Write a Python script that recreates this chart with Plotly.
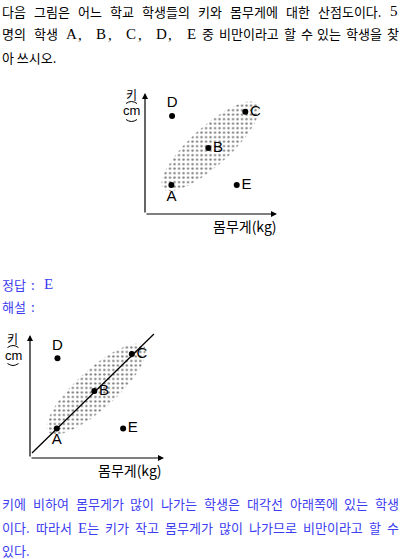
import numpy as np
import plotly.graph_objects as go

W, H = 400, 559

# ---- data (arbitrary units of weight / height) ----
labels = ["A", "B", "C", "D", "E"]
weight = [2.0, 4.8, 7.6, 2.05, 6.95]
height = [2.4, 5.45, 8.45, 8.1, 2.4]
label_pos = ["bottom center", "middle right", "middle right", "top center", "middle right"]
trend_x = [0.15, 9.25]
trend_y = [0.41, 10.08]

# ellipse (cloud of students) geometry
ell_cx, ell_cy, ell_a, ell_b, ell_ang = 4.95, 5.6, 5.0, 1.55, 45.0

BLUE = "#3c3cf0"
KFONT = "Noto Sans CJK KR, sans-serif"
SERIF = "Liberation Serif, serif"
SANS = "Liberation Sans, Arial, sans-serif"
FS = 13
HANGUL_K = 0.92


def px(x, y):
    return x / W, 1 - y / H


def ellipse():
    t = np.linspace(0, 2 * np.pi, 120)
    th = np.radians(ell_ang)
    u = ell_a * np.cos(t)
    v = ell_b * np.sin(t)
    return ell_cx + u * np.cos(th) - v * np.sin(th), ell_cy + u * np.sin(th) + v * np.cos(th)


fig = go.Figure()

charts = [
    dict(ox=145, oy=214, sx=13.2, sy=12.1, trend=False, xa="x", ya="y"),
    dict(ox=30, oy=458, sx=13.4, sy=12.3, trend=True, xa="x2", ya="y2"),
]

annotations = []
shapes = []
layout_axes = {}
for i, c in enumerate(charts):
    xr = [-1, 11]
    yr = [-1, 11]
    x0p = c["ox"] + xr[0] * c["sx"]
    x1p = c["ox"] + xr[1] * c["sx"]
    y0p = c["oy"] - yr[0] * c["sy"]
    y1p = c["oy"] - yr[1] * c["sy"]
    xname = "xaxis" if i == 0 else "xaxis2"
    yname = "yaxis" if i == 0 else "yaxis2"
    layout_axes[xname] = dict(domain=[x0p / W, x1p / W], range=xr, visible=False, anchor=c["ya"], fixedrange=True)
    layout_axes[yname] = dict(domain=[1 - y0p / H, 1 - y1p / H], range=yr, visible=False, anchor=c["xa"], fixedrange=True)

    ex, ey = ellipse()
    fig.add_trace(go.Scatter(
        x=ex, y=ey, mode="lines", fill="toself", line=dict(width=0, color="rgba(0,0,0,0)"),
        fillcolor="white",
        fillpattern=dict(shape=".", fgcolor="black", bgcolor="white", size=4.5, solidity=0.22),
        xaxis=c["xa"], yaxis=c["ya"], hoverinfo="skip", showlegend=False))
    if c["trend"]:
        fig.add_trace(go.Scatter(
            x=trend_x, y=trend_y, mode="lines", line=dict(color="black", width=1.3),
            xaxis=c["xa"], yaxis=c["ya"], showlegend=False, hoverinfo="skip"))
    fig.add_trace(go.Scatter(
        x=weight, y=height, mode="markers+text", text=labels, textposition=label_pos,
        marker=dict(color="black", size=6), textfont=dict(family=SANS, size=15, color="black"),
        xaxis=c["xa"], yaxis=c["ya"], showlegend=False, cliponaxis=False))
    for hx, hy in [(10, 0), (0, 10)]:
        annotations.append(dict(x=hx, y=hy, ax=0, ay=0, xref=c["xa"], yref=c["ya"], axref=c["xa"], ayref=c["ya"],
                                showarrow=True, arrowhead=2, arrowsize=1, arrowwidth=1.2, arrowcolor="black", text=""))


def ptext(x, y, text, size=FS, color="black", family=KFONT, xanchor="center"):
    xx, yy = px(x, y)
    annotations.append(dict(x=xx, y=yy, xref="paper", yref="paper", text=text, showarrow=False,
                            xanchor=xanchor, yanchor="middle", font=dict(family=family, size=size, color=color)))


def S(t):
    return f'<span style="font-family:{SERIF};font-size:15px">{t}</span>'


def est_width(word, size=FS):
    w = 0.0
    for ch in word:
        o = ord(ch)
        if 0xAC00 <= o <= 0xD7A3:
            w += HANGUL_K * size
        elif ch in ".,":
            w += 0.3 * size
        else:
            w += 0.68 * size
    return w


def justify(y, words, x0, x1, color="black"):
    widths = [est_width(p) for _, p in words]
    gap = (x1 - x0 - sum(widths)) / (len(words) - 1)
    x = x0
    for (html, _), w in zip(words, widths):
        ptext(x, y, html, color=color, xanchor="left")
        x += w + gap


def plain_words(s):
    return [(w, w) for w in s.split(" ")]


for (kx, ky, cy, a1, a2, mx) in [(131.5, 94, 111, 102, 121, 131.5), (12.5, 338, 355, 346, 365, 13)]:
    ptext(kx, ky, "키", size=12, family=KFONT)
    ptext(mx, cy, "cm", size=13, family=SANS)
    for ay, d in [(a1 + 1.5, -4), (a2 - 1.5, 4)]:
        x0, y0 = px(mx - 5.5, ay)
        x1, _ = px(mx + 5.5, ay)
        xm, ym = px(mx, ay + d)
        shapes.append(dict(type="path", xref="paper", yref="paper",
                           path=f"M {x0},{y0} Q {xm},{ym} {x1},{y0}", line=dict(color="black", width=1)))

ptext(245, 226, "몸무게(kg)", size=14, family=KFONT)
ptext(130, 470, "몸무게(kg)", size=14, family=KFONT)

# question text (justified)
justify(11, plain_words("다음 그림은 어느 학교 학생들의 키와 몸무게에 대한 산점도이다.") + [(S("5"), "5")], 0, 397)
justify(34, plain_words("명의 학생"), 0, 56)
for lt, cx in zip(["A", "B", "C", "D"], [71, 101, 131, 161]):
    ptext(cx, 34, lt, size=15, family=SERIF)
    ptext(cx + 9, 35, ",", size=15, family=SERIF)
ptext(191, 34, "E", size=15, family=SERIF)
justify(34, plain_words("중 비만이라고 할 수 있는 학생을 찾"), 200, 397)
ptext(0, 57, "아 쓰시오.", xanchor="left")

# answer
ptext(0, 284, "정답", color=BLUE, xanchor="left")
ptext(33, 284, ":", color=BLUE)
ptext(48, 284, "E", size=15, color=BLUE, family=SERIF)
ptext(0, 306, "해설", color=BLUE, xanchor="left")
ptext(33, 306, ":", color=BLUE)

justify(503, plain_words("키에 비하여 몸무게가 많이 나가는 학생은 대각선 아래쪽에 있는 학생"), 0, 397, color=BLUE)
b2 = plain_words("이다. 따라서") + [(S("E") + "는", "E는")] + plain_words("키가 작고 몸무게가 많이 나가므로 비만이라고 할 수")
justify(527, b2, 0, 397, color=BLUE)
ptext(0, 550, "있다.", color=BLUE, xanchor="left")

fig.update_layout(width=W, height=H, margin=dict(l=0, r=0, t=0, b=0), paper_bgcolor="white",
                  plot_bgcolor="rgba(0,0,0,0)", annotations=annotations, shapes=shapes, **layout_axes)
fig.write_html("out.html", config={"displayModeBar": False},
               post_script="document.body.style.margin='0';")
